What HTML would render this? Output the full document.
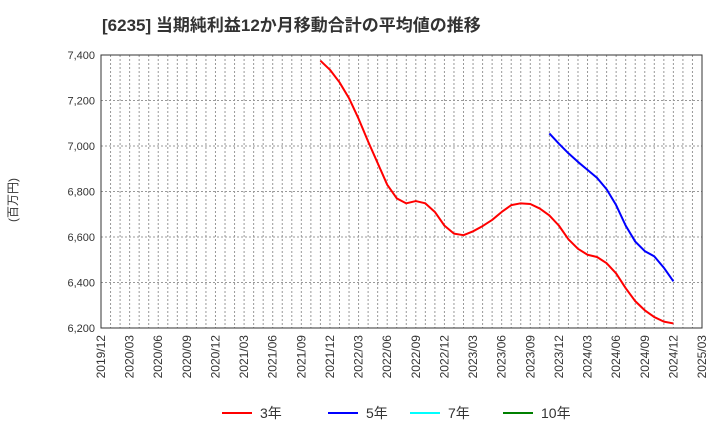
<!DOCTYPE html>
<html><head><meta charset="utf-8"><style>
body{margin:0;background:#fff;}
svg text{font-family:"Liberation Sans","Noto Sans CJK JP",sans-serif;}
</style></head><body>
<svg id="chart" width="720" height="440" xmlns="http://www.w3.org/2000/svg">
<text x="102" y="31" font-size="17" font-weight="bold" fill="#333">[6235]  当期純利益12か月移動合計の平均値の推移</text>
<text transform="translate(17,200) rotate(-90)" font-size="12" fill="#333" text-anchor="middle">(百万円)</text>
<g id="grid"></g>
<g id="axes"></g>
<g id="series"></g>
<g id="legend"></g>
</svg>
<script>
const yTicks=[6200,6400,6600,6800,7000,7200,7400];
const xTickLabels=["2019/12","2020/03","2020/06","2020/09","2020/12","2021/03","2021/06","2021/09","2021/12","2022/03","2022/06","2022/09","2022/12","2023/03","2023/06","2023/09","2023/12","2024/03","2024/06","2024/09","2024/12","2025/03"];
const series3Start=23; // months after 2019/12 (2021/11)
const series3=[7375,7335,7280,7210,7120,7020,6925,6830,6770,6748,6758,6748,6710,6650,6615,6608,6625,6648,6675,6710,6740,6748,6745,6725,6695,6650,6590,6548,6522,6512,6485,6440,6375,6318,6278,6248,6228,6220];
const series5Start=47; // 2023/11
const series5=[7055,7010,6968,6930,6895,6860,6810,6740,6650,6580,6538,6515,6465,6405];
const legendLabels=["3年","5年","7年","10年"];
const legendColors=["#ff0000","#0000ff","#00ffff","#008000"];

const L=101,R=702,T=55,B=328,NM=63;
const x=m=>L+(R-L)*m/NM;
const y=v=>B-(v-6200)/1200*(B-T);
const NS="http://www.w3.org/2000/svg";
function mk(t,a,p){const e=document.createElementNS(NS,t);for(const k in a)e.setAttribute(k,a[k]);p.appendChild(e);return e;}
const grid=document.getElementById('grid'),axes=document.getElementById('axes'),ser=document.getElementById('series'),leg=document.getElementById('legend');
for(let m=1;m<NM;m++){const l=mk('line',{x1:x(m),x2:x(m),y1:T,y2:B,stroke:'#999','stroke-width':1,'stroke-dasharray':'2,2'},grid);

}
yTicks.forEach(v=>{const l=mk('line',{x1:L,x2:R,y1:y(v),y2:y(v),stroke:'#999','stroke-width':1,'stroke-dasharray':'2,2'},grid);


const t=mk('text',{x:L-6,y:y(v)+4,'font-size':11,fill:'#333','text-anchor':'end'},axes);t.textContent=v.toLocaleString('en-US');

});
const fr=mk('rect',{x:L,y:T,width:R-L,height:B-T,fill:'none',stroke:'#333','stroke-width':1},axes);


xTickLabels.forEach((s,i)=>{const px=x(i*3);const t=mk('text',{transform:`translate(${px+4},${B+7}) rotate(-90)`,'font-size':12,fill:'#333','text-anchor':'end'},axes);t.textContent=s;

});
function line(vals,start,color,name){const p=mk('polyline',{points:vals.map((v,i)=>x(start+i)+','+y(v)).join(' '),fill:'none',stroke:color,'stroke-width':2,'stroke-linejoin':'round'},ser);

}
line(series3,series3Start,'#ff0000','series-3yr');
line(series5,series5Start,'#0000ff','series-5yr');
const lx=[222,328,410,503];
legendLabels.forEach((s,i)=>{const g=mk('g',{},leg);


mk('line',{x1:lx[i],x2:lx[i]+30,y1:413,y2:413,stroke:legendColors[i],'stroke-width':2},g);
const t=mk('text',{x:lx[i]+38,y:418,'font-size':14,fill:'#333'},g);t.textContent=s;});
</script>
</body></html>
